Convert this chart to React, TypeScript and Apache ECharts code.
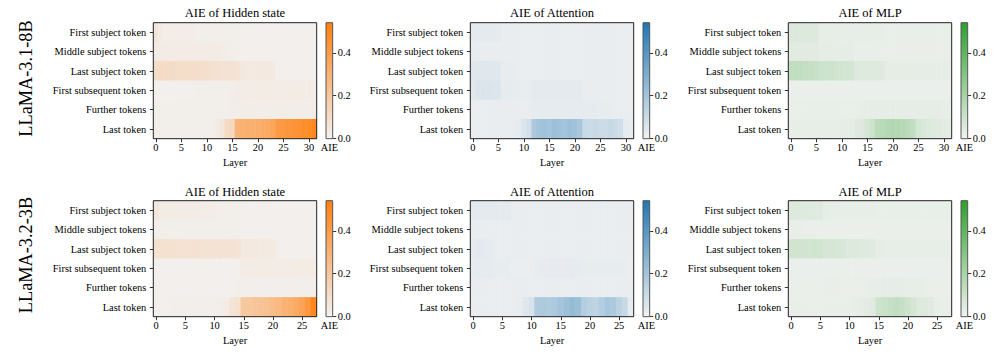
import React, { useEffect, useRef } from 'react';
import * as echarts from 'echarts';

// ---------- data ----------
const tokenRows = [
  'First subject token',
  'Middle subject tokens',
  'Last subject token',
  'First subsequent token',
  'Further tokens',
  'Last token',
];
const modelNames = ['LLaMA-3.1-8B', 'LLaMA-3.2-3B'];
const panelTitles = ['AIE of Hidden state', 'AIE of Attention', 'AIE of MLP'];
const layerCounts = [32, 28];
const colorbarTicks = [0, 0.2, 0.4];
const aieMax = 0.54;
const colorbarLabel = 'AIE';
const xAxisName = 'Layer';

// LLaMA-3.1-8B (32 layers)
const hidden8B = [
  [0.06, 0.028, 0.026, 0.025, 0.024, 0.024, 0.022, 0.022, 0.02, 0.02, 0.02, 0.02, 0.019, 0.018, 0.017, 0.016, 0.016, 0.015, 0.015, 0.015, 0.015, 0.014, 0.014, 0.014, 0.012, 0.012, 0.012, 0.012, 0.012, 0.012, 0.012, 0.012],
  [0.035, 0.036, 0.035, 0.034, 0.034, 0.033, 0.033, 0.032, 0.032, 0.031, 0.03, 0.03, 0.028, 0.026, 0.024, 0.02, 0.016, 0.015, 0.015, 0.015, 0.015, 0.015, 0.015, 0.015, 0.014, 0.014, 0.014, 0.014, 0.014, 0.014, 0.014, 0.014],
  [0.1, 0.102, 0.101, 0.1, 0.098, 0.097, 0.095, 0.094, 0.092, 0.09, 0.088, 0.086, 0.082, 0.076, 0.072, 0.07, 0.066, 0.045, 0.044, 0.042, 0.042, 0.04, 0.04, 0.038, 0.013, 0.012, 0.012, 0.012, 0.012, 0.012, 0.012, 0.012],
  [0.015, 0.015, 0.015, 0.015, 0.015, 0.015, 0.015, 0.015, 0.016, 0.016, 0.016, 0.016, 0.017, 0.018, 0.02, 0.022, 0.028, 0.028, 0.029, 0.03, 0.03, 0.03, 0.03, 0.03, 0.031, 0.031, 0.03, 0.03, 0.03, 0.03, 0.029, 0.028],
  [0.016, 0.016, 0.016, 0.016, 0.016, 0.016, 0.016, 0.016, 0.016, 0.016, 0.016, 0.016, 0.017, 0.018, 0.02, 0.022, 0.024, 0.024, 0.025, 0.025, 0.025, 0.025, 0.025, 0.025, 0.024, 0.024, 0.024, 0.024, 0.024, 0.023, 0.022, 0.022],
  [0.016, 0.016, 0.016, 0.016, 0.016, 0.016, 0.017, 0.017, 0.018, 0.018, 0.02, 0.022, 0.03, 0.055, 0.11, 0.12, 0.29, 0.3, 0.31, 0.31, 0.32, 0.33, 0.34, 0.36, 0.41, 0.42, 0.43, 0.44, 0.45, 0.47, 0.48, 0.5],
];
const attention8B = [
  [0.034, 0.036, 0.036, 0.035, 0.035, 0.034, 0.022, 0.021, 0.021, 0.02, 0.02, 0.02, 0.02, 0.02, 0.02, 0.02, 0.02, 0.02, 0.02, 0.02, 0.02, 0.02, 0.02, 0.02, 0.02, 0.02, 0.02, 0.02, 0.02, 0.02, 0.02, 0.02],
  [0.025, 0.025, 0.024, 0.024, 0.024, 0.024, 0.02, 0.02, 0.02, 0.02, 0.02, 0.02, 0.02, 0.02, 0.02, 0.02, 0.02, 0.02, 0.02, 0.02, 0.02, 0.02, 0.02, 0.02, 0.02, 0.02, 0.02, 0.02, 0.02, 0.02, 0.02, 0.02],
  [0.045, 0.044, 0.046, 0.045, 0.044, 0.043, 0.026, 0.025, 0.025, 0.024, 0.024, 0.024, 0.022, 0.022, 0.022, 0.022, 0.022, 0.022, 0.022, 0.022, 0.022, 0.022, 0.02, 0.02, 0.02, 0.02, 0.02, 0.02, 0.02, 0.02, 0.02, 0.02],
  [0.04, 0.058, 0.062, 0.06, 0.058, 0.055, 0.03, 0.03, 0.028, 0.028, 0.028, 0.028, 0.035, 0.036, 0.036, 0.035, 0.035, 0.036, 0.035, 0.034, 0.034, 0.033, 0.022, 0.021, 0.021, 0.02, 0.02, 0.02, 0.02, 0.02, 0.02, 0.02],
  [0.02, 0.02, 0.02, 0.02, 0.02, 0.02, 0.02, 0.02, 0.02, 0.02, 0.02, 0.022, 0.03, 0.031, 0.032, 0.032, 0.031, 0.03, 0.03, 0.03, 0.03, 0.03, 0.03, 0.029, 0.029, 0.028, 0.028, 0.026, 0.024, 0.02, 0.02, 0.02],
  [0.02, 0.02, 0.02, 0.02, 0.02, 0.02, 0.021, 0.022, 0.024, 0.03, 0.055, 0.08, 0.18, 0.2, 0.21, 0.2, 0.22, 0.21, 0.2, 0.22, 0.21, 0.19, 0.11, 0.1, 0.11, 0.1, 0.1, 0.11, 0.1, 0.09, 0.03, 0.022],
];
const mlp8B = [
  [0.06, 0.062, 0.06, 0.058, 0.058, 0.056, 0.032, 0.031, 0.03, 0.03, 0.03, 0.03, 0.03, 0.03, 0.03, 0.03, 0.029, 0.029, 0.029, 0.028, 0.028, 0.028, 0.028, 0.028, 0.028, 0.027, 0.027, 0.027, 0.027, 0.027, 0.027, 0.027],
  [0.046, 0.045, 0.045, 0.044, 0.044, 0.043, 0.036, 0.035, 0.035, 0.034, 0.034, 0.034, 0.033, 0.026, 0.026, 0.025, 0.025, 0.025, 0.025, 0.025, 0.025, 0.025, 0.025, 0.025, 0.025, 0.025, 0.025, 0.025, 0.025, 0.025, 0.025, 0.025],
  [0.13, 0.135, 0.132, 0.128, 0.122, 0.118, 0.104, 0.1, 0.098, 0.092, 0.09, 0.088, 0.085, 0.056, 0.055, 0.054, 0.054, 0.052, 0.05, 0.036, 0.036, 0.035, 0.035, 0.035, 0.034, 0.034, 0.034, 0.034, 0.034, 0.034, 0.034, 0.034],
  [0.018, 0.018, 0.018, 0.018, 0.018, 0.018, 0.018, 0.018, 0.018, 0.018, 0.018, 0.018, 0.018, 0.018, 0.018, 0.018, 0.018, 0.018, 0.018, 0.018, 0.018, 0.018, 0.018, 0.018, 0.018, 0.018, 0.018, 0.018, 0.018, 0.018, 0.018, 0.018],
  [0.025, 0.025, 0.026, 0.026, 0.026, 0.026, 0.026, 0.026, 0.026, 0.026, 0.026, 0.026, 0.026, 0.026, 0.03, 0.031, 0.032, 0.032, 0.032, 0.032, 0.032, 0.032, 0.032, 0.032, 0.032, 0.032, 0.032, 0.032, 0.032, 0.032, 0.03, 0.03],
  [0.03, 0.03, 0.03, 0.03, 0.03, 0.03, 0.03, 0.03, 0.03, 0.03, 0.032, 0.034, 0.036, 0.05, 0.06, 0.08, 0.1, 0.15, 0.16, 0.17, 0.18, 0.175, 0.165, 0.15, 0.13, 0.08, 0.065, 0.06, 0.055, 0.05, 0.045, 0.04],
];

// LLaMA-3.2-3B (28 layers)
const hidden3B = [
  [0.05, 0.03, 0.03, 0.03, 0.029, 0.029, 0.028, 0.028, 0.027, 0.027, 0.026, 0.016, 0.016, 0.016, 0.016, 0.015, 0.015, 0.015, 0.015, 0.015, 0.015, 0.015, 0.015, 0.015, 0.015, 0.015, 0.015, 0.015],
  [0.02, 0.02, 0.02, 0.02, 0.02, 0.02, 0.02, 0.02, 0.02, 0.019, 0.019, 0.018, 0.018, 0.018, 0.016, 0.015, 0.015, 0.015, 0.015, 0.015, 0.015, 0.015, 0.015, 0.015, 0.015, 0.015, 0.015, 0.015],
  [0.08, 0.082, 0.082, 0.08, 0.08, 0.079, 0.078, 0.077, 0.076, 0.075, 0.074, 0.073, 0.072, 0.07, 0.068, 0.042, 0.04, 0.04, 0.039, 0.038, 0.038, 0.016, 0.015, 0.015, 0.015, 0.015, 0.015, 0.015],
  [0.013, 0.013, 0.013, 0.013, 0.013, 0.013, 0.013, 0.013, 0.013, 0.013, 0.013, 0.013, 0.014, 0.014, 0.015, 0.028, 0.029, 0.03, 0.03, 0.03, 0.03, 0.031, 0.031, 0.031, 0.03, 0.03, 0.03, 0.03],
  [0.015, 0.015, 0.015, 0.015, 0.015, 0.015, 0.015, 0.015, 0.015, 0.015, 0.015, 0.015, 0.015, 0.015, 0.016, 0.017, 0.017, 0.017, 0.017, 0.017, 0.017, 0.017, 0.017, 0.017, 0.017, 0.017, 0.017, 0.017],
  [0.015, 0.015, 0.015, 0.016, 0.016, 0.016, 0.017, 0.017, 0.018, 0.019, 0.02, 0.022, 0.03, 0.065, 0.08, 0.2, 0.2, 0.21, 0.22, 0.23, 0.25, 0.27, 0.3, 0.31, 0.34, 0.37, 0.42, 0.5],
];
const attention3B = [
  [0.034, 0.036, 0.036, 0.035, 0.035, 0.034, 0.033, 0.02, 0.02, 0.02, 0.02, 0.02, 0.02, 0.02, 0.02, 0.02, 0.02, 0.02, 0.02, 0.02, 0.02, 0.02, 0.02, 0.02, 0.02, 0.02, 0.02, 0.02],
  [0.02, 0.02, 0.02, 0.02, 0.02, 0.02, 0.02, 0.02, 0.02, 0.02, 0.02, 0.02, 0.02, 0.02, 0.02, 0.02, 0.02, 0.02, 0.02, 0.02, 0.02, 0.02, 0.02, 0.02, 0.02, 0.02, 0.02, 0.02],
  [0.036, 0.038, 0.034, 0.03, 0.021, 0.02, 0.02, 0.02, 0.02, 0.02, 0.02, 0.02, 0.02, 0.02, 0.02, 0.02, 0.02, 0.02, 0.02, 0.02, 0.02, 0.02, 0.02, 0.02, 0.02, 0.02, 0.02, 0.02],
  [0.028, 0.03, 0.032, 0.03, 0.028, 0.027, 0.026, 0.019, 0.018, 0.018, 0.018, 0.028, 0.029, 0.029, 0.03, 0.029, 0.029, 0.03, 0.029, 0.028, 0.027, 0.028, 0.028, 0.028, 0.027, 0.027, 0.026, 0.018],
  [0.02, 0.02, 0.02, 0.02, 0.02, 0.02, 0.02, 0.02, 0.02, 0.02, 0.02, 0.02, 0.021, 0.021, 0.021, 0.021, 0.021, 0.021, 0.021, 0.021, 0.021, 0.021, 0.021, 0.021, 0.021, 0.02, 0.02, 0.02],
  [0.02, 0.02, 0.02, 0.02, 0.02, 0.02, 0.021, 0.022, 0.026, 0.05, 0.07, 0.17, 0.18, 0.17, 0.18, 0.2, 0.22, 0.24, 0.23, 0.16, 0.14, 0.13, 0.16, 0.19, 0.18, 0.14, 0.11, 0.03],
];
const mlp3B = [
  [0.056, 0.056, 0.055, 0.055, 0.054, 0.053, 0.032, 0.03, 0.03, 0.03, 0.03, 0.03, 0.029, 0.029, 0.029, 0.028, 0.028, 0.028, 0.028, 0.028, 0.028, 0.028, 0.028, 0.028, 0.028, 0.028, 0.028, 0.028],
  [0.024, 0.024, 0.024, 0.023, 0.023, 0.023, 0.022, 0.022, 0.022, 0.022, 0.022, 0.022, 0.022, 0.022, 0.022, 0.022, 0.022, 0.022, 0.022, 0.022, 0.022, 0.022, 0.022, 0.022, 0.022, 0.022, 0.022, 0.022],
  [0.09, 0.092, 0.09, 0.094, 0.095, 0.093, 0.078, 0.076, 0.075, 0.072, 0.058, 0.056, 0.055, 0.053, 0.05, 0.032, 0.031, 0.03, 0.03, 0.03, 0.03, 0.03, 0.03, 0.03, 0.03, 0.03, 0.03, 0.03],
  [0.018, 0.018, 0.018, 0.018, 0.018, 0.018, 0.018, 0.018, 0.018, 0.018, 0.018, 0.018, 0.018, 0.018, 0.018, 0.018, 0.018, 0.018, 0.018, 0.018, 0.018, 0.018, 0.018, 0.018, 0.018, 0.018, 0.018, 0.018],
  [0.022, 0.022, 0.022, 0.022, 0.022, 0.022, 0.024, 0.024, 0.024, 0.024, 0.024, 0.024, 0.024, 0.024, 0.03, 0.031, 0.032, 0.032, 0.033, 0.032, 0.031, 0.03, 0.03, 0.024, 0.023, 0.022, 0.022, 0.022],
  [0.025, 0.025, 0.025, 0.025, 0.025, 0.025, 0.026, 0.026, 0.026, 0.027, 0.028, 0.03, 0.032, 0.042, 0.05, 0.1, 0.11, 0.12, 0.13, 0.12, 0.1, 0.08, 0.06, 0.058, 0.05, 0.03, 0.028, 0.025],
];

const panelData = [
  [hidden8B, attention8B, mlp8B],
  [hidden3B, attention3B, mlp3B],
];

// ---------- styles / layout ----------
const panelColors = ['#ff7f0e', '#1f77b4', '#2ca02c'];
const lowColor = '#f2f2f2';
const FONT = 'Liberation Serif';
const colLeft = [153.3, 470.3, 788.3];
const plotW = 163.4;
const cbLeft = [326, 643, 961];
const cbW = 6.7;
const rowTop = [22.7, 200.7];
const plotH = 116;
const titleY = [13.3, 192];
const modelLabelY = [78.5, 255];

export default function App() {
  const ref = useRef<HTMLDivElement>(null);

  useEffect(() => {
    if (!ref.current) return;
    const chart = echarts.init(ref.current, null, { renderer: 'svg' });

    const grid: any[] = [];
    const xAxis: any[] = [];
    const yAxis: any[] = [];
    const series: any[] = [];
    const visualMap: any[] = [];
    const graphic: any[] = [];

    const labelStyle = { fontFamily: FONT, fontSize: 10.4, color: '#000' };
    const tickStyle = { color: '#000', width: 0.8 };

    for (let r = 0; r < 2; r++) {
      const n = layerCounts[r];
      const layers = Array.from({ length: n }, (_, i) => String(i));
      for (let c = 0; c < 3; c++) {
        const matrix = panelData[r][c];
        const gHeat = grid.length;
        grid.push({
          left: colLeft[c], top: rowTop[r], width: plotW, height: plotH,
          show: true, z: 5, borderColor: '#222', borderWidth: 1,
          backgroundColor: 'rgba(0,0,0,0)', containLabel: false,
        });
        const gBar = grid.length;
        grid.push({
          left: cbLeft[c], top: rowTop[r], width: cbW, height: plotH,
          show: true, z: 5, borderColor: '#555', borderWidth: 1,
          backgroundColor: 'rgba(0,0,0,0)', containLabel: false,
        });

        const every5 = (idx: number) => idx % 5 === 0;
        xAxis.push({
          type: 'category', gridIndex: gHeat, data: layers,
          axisLine: { show: false },
          axisTick: { show: true, alignWithLabel: true, interval: every5, length: 3.5, lineStyle: tickStyle },
          axisLabel: { ...labelStyle, interval: every5, margin: 4 },
          splitLine: { show: false },
          name: xAxisName, nameLocation: 'middle', nameGap: 18.5,
          nameTextStyle: { ...labelStyle },
        });
        yAxis.push({
          type: 'category', gridIndex: gHeat, data: tokenRows, inverse: true,
          axisLine: { show: false },
          axisTick: { show: true, alignWithLabel: true, length: 3.5, lineStyle: tickStyle },
          axisLabel: { ...labelStyle, margin: 7 },
          splitLine: { show: false },
        });
        xAxis.push({
          type: 'category', gridIndex: gBar, data: [colorbarLabel],
          axisLine: { show: false }, axisTick: { show: false },
          axisLabel: { ...labelStyle, margin: 4 },
        });
        yAxis.push({
          type: 'value', gridIndex: gBar, min: 0, max: aieMax, position: 'right',
          axisLine: { show: false }, splitLine: { show: false },
          axisTick: { show: true, length: 3.5, lineStyle: tickStyle, customValues: colorbarTicks },
          axisLabel: { ...labelStyle, margin: 5, customValues: colorbarTicks, formatter: (v: number) => v.toFixed(1) },
        });

        const cells: number[][] = [];
        matrix.forEach((row, yi) => row.forEach((v, xi) => cells.push([xi, yi, v])));
        const heatIdx = series.length;
        series.push({
          type: 'heatmap', xAxisIndex: gHeat, yAxisIndex: gHeat, data: cells,
          z: 2, emphasis: { disabled: true }, progressive: 0,
        });
        visualMap.push({
          type: 'continuous', show: false, min: 0, max: aieMax, dimension: 2,
          seriesIndex: heatIdx, inRange: { color: [lowColor, panelColors[c]] },
        });
        series.push({
          type: 'bar', xAxisIndex: gBar, yAxisIndex: gBar, data: [aieMax],
          barWidth: '100%', z: 2, silent: true,
          itemStyle: {
            color: new echarts.graphic.LinearGradient(0, 0, 0, 1, [
              { offset: 0, color: panelColors[c] },
              { offset: 1, color: lowColor },
            ]),
          },
        });

        graphic.push({
          type: 'text', x: colLeft[c] + plotW / 2, y: titleY[r],
          style: {
            text: panelTitles[c], fill: '#000', fontFamily: FONT, fontSize: 12.5, fontWeight: 'normal',
            align: 'center', verticalAlign: 'middle', textAlign: 'center', textVerticalAlign: 'middle',
          },
        });
      }
      graphic.push({
        type: 'text', x: 26, y: modelLabelY[r], rotation: Math.PI / 2,
        style: {
          text: modelNames[r], fill: '#000', fontFamily: FONT, fontSize: 18.3, fontWeight: 'normal',
          align: 'center', verticalAlign: 'middle', textAlign: 'center', textVerticalAlign: 'middle',
        },
      });
    }

    chart.setOption({
      animation: false,
      backgroundColor: '#fff',
      textStyle: { fontFamily: FONT },
      grid, xAxis, yAxis, series, visualMap, graphic,
    });

    return () => chart.dispose();
  }, []);

  return (
    <div
      ref={ref}
      style={{ position: 'absolute', left: 0, top: 0, width: 996, height: 356, background: '#fff' }}
    />
  );
}
